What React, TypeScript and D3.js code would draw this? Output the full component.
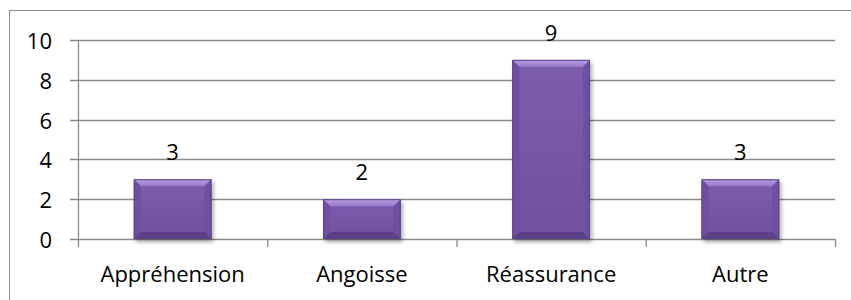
import React from "react";
import * as d3 from "d3";

const categories = ["Appréhension", "Angoisse", "Réassurance", "Autre"];
const values = [3, 2, 9, 3];
const yTicks = [0, 2, 4, 6, 8, 10];

const W = 851;
const H = 300;
const left = 78;
const right = 835;
const top = 40;
const bottom = 239;
const FONT = "'Open Sans', 'Liberation Sans', sans-serif";

export default function App() {
  const x = d3.scaleBand<string>().domain(categories).range([left, right]).paddingInner(0.59).paddingOuter(0.295);
  const y = d3.scaleLinear().domain([0, 10]).range([bottom, top]);
  const step = x.step();
  const bw = x.bandwidth();
  const b = 7;
  const grid = "#8a8a8a";

  return (
    <svg width={W} height={H} style={{ position: "absolute", left: 0, top: 0 }} fontFamily={FONT}>
      <defs>
        <linearGradient id="topBevel" x1="0" y1="0" x2="0" y2="1">
          <stop offset="0" stopColor="#B9A0E3" />
          <stop offset="1" stopColor="#9678C8" />
        </linearGradient>
        <linearGradient id="body" x1="0" y1="0" x2="0" y2="1">
          <stop offset="0" stopColor="#7D5DB0" />
          <stop offset="1" stopColor="#6F509F" />
        </linearGradient>
        <filter id="shadow" x="-20%" y="-20%" width="140%" height="140%">
          <feGaussianBlur stdDeviation="2" />
        </filter>
      </defs>
      <rect x={0} y={0} width={W} height={H} fill="#fff" />
      <rect x={9.5} y={10.5} width={1000} height={500} fill="none" stroke="#8c8c8c" strokeWidth={1} />

      {yTicks.map((t) => (
        <g key={t}>
          <line x1={70} x2={right} y1={Math.round(y(t)) + 0.5} y2={Math.round(y(t)) + 0.5} stroke={grid} strokeWidth={1.3} />
          <text x={52} y={y(t)} textAnchor="end" dominantBaseline="central" fontSize={22} fill="#000">
            {t}
          </text>
        </g>
      ))}
      <line x1={left + 0.5} x2={left + 0.5} y1={top} y2={247} stroke={grid} strokeWidth={1.3} />
      {categories.map((c, i) => (
        <line key={"t" + c} x1={left + step * (i + 1) + 0.5} x2={left + step * (i + 1) + 0.5} y1={bottom} y2={247} stroke={grid} strokeWidth={1.3} />
      ))}

      {categories.map((c, i) => {
        const bx = x(c)!;
        const by = y(values[i]);
        const bh = bottom - by;
        return (
          <g key={c}>
            <rect x={bx + 2} y={by + 3} width={bw} height={bh} fill="#000" opacity={0.35} filter="url(#shadow)" />
            <rect x={bx} y={by} width={bw} height={bh} fill="url(#body)" />
            <polygon points={`${bx},${by} ${bx + bw},${by} ${bx + bw - b},${by + b} ${bx + b},${by + b}`} fill="url(#topBevel)" />
            <polygon points={`${bx},${by} ${bx + b},${by + b} ${bx + b},${by + bh - b} ${bx},${by + bh}`} fill="#6E4FA2" />
            <polygon points={`${bx + bw},${by} ${bx + bw - b},${by + b} ${bx + bw - b},${by + bh - b} ${bx + bw},${by + bh}`} fill="#6E4FA2" />
            <polygon points={`${bx},${by + bh} ${bx + b},${by + bh - b} ${bx + bw - b},${by + bh - b} ${bx + bw},${by + bh}`} fill="#5B3F88" />
            <rect x={bx + 0.5} y={by + 0.5} width={bw - 1} height={bh - 1} fill="none" stroke="#5E428C" strokeWidth={1} />
            <text x={bx + bw / 2} y={by - 19} textAnchor="middle" fontSize={22} fill="#000">
              {values[i]}
            </text>
            <text x={bx + bw / 2} y={282} textAnchor="middle" fontSize={22} fill="#000">
              {c}
            </text>
          </g>
        );
      })}
    </svg>
  );
}
